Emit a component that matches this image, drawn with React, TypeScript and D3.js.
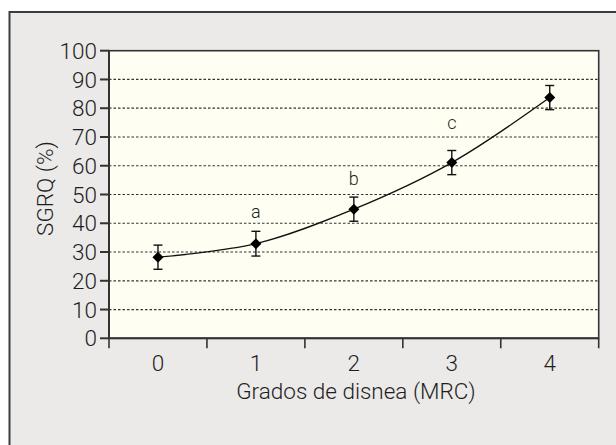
import React from "react";
import * as d3 from "d3";

const categories = ["0", "1", "2", "3", "4"];
const means = [28.2, 32.9, 44.9, 61.1, 83.7];
const errors = [4.2, 4.3, 4.2, 4.2, 4.2];
const yTicks = [0, 10, 20, 30, 40, 50, 60, 70, 80, 90, 100];
const gridValues = [10, 20, 30, 40, 50, 60, 70, 80, 90];
const annoLabels = ["a", "b", "c"];
const annoCats = ["1", "2", "3"];
const annoValues = [41.9, 53.4, 72.9];

const W = 616;
const H = 445;
const margin = { top: 50.7, right: 17.3, bottom: 106.7, left: 109 };
const font = "Roboto, 'Liberation Sans', Arial, sans-serif";
const ink = "#1e1e1e";

const App = () => {
  const x = d3
    .scaleBand()
    .domain(categories)
    .range([margin.left, W - margin.right]);

  const y = d3
    .scaleLinear()
    .domain([0, 100])
    .range([H - margin.bottom, margin.top]);

  const cx = (c) => x(c) + x.bandwidth() / 2;
  const pts = categories.map((c, i) => ({ c, v: means[i], e: errors[i] }));

  const line = d3
    .line()
    .x((d) => cx(d.c))
    .y((d) => y(d.v))
    .curve(d3.curveCatmullRom);

  // band edges for x ticks
  const edges = categories.map((c) => x(c)).concat([x.range()[1]]);
  const left = margin.left;
  const right = W - margin.right;
  const bottom = H - margin.bottom;
  const top = margin.top;
  const cap = 4.5;
  const dm = 5.5;

  return (
    <svg
      width={W}
      height={H}
      style={{ position: "absolute", left: 0, top: 0 }}
    >
      <rect x={0} y={0} width={W} height={H} fill="#ffffff" />
      <rect
        x={9.5}
        y={12}
        width={640}
        height={480}
        fill="#ebeae8"
        stroke="#3c3c3c"
        strokeWidth={2}
      />
      <rect
        x={left}
        y={top}
        width={right - left}
        height={bottom - top}
        fill="#fefef2"
        stroke="#333"
        strokeWidth={1.6}
      />

      {/* grid */}
      {gridValues.map((v) => (
        <line
          key={"g" + v}
          x1={left}
          x2={right}
          y1={y(v)}
          y2={y(v)}
          stroke="#333"
          strokeWidth={1.2}
          strokeDasharray="2.5,2"
        />
      ))}

      {/* axes */}
      <line x1={left} x2={left} y1={top} y2={bottom} stroke="#333" strokeWidth={2} />
      <line x1={left} x2={right} y1={bottom} y2={bottom} stroke="#333" strokeWidth={2} />

      {yTicks.map((v) => (
        <g key={"y" + v}>
          <line x1={left - 9} x2={left} y1={y(v)} y2={y(v)} stroke="#333" strokeWidth={2} />
          <text
            x={left - 12}
            y={y(v)}
            dy="0.36em"
            textAnchor="end"
            fontFamily={font}
            fontWeight={300}
            fontSize={22.5}
            fill={ink}
          >
            {v}
          </text>
        </g>
      ))}

      {edges.map((ex, i) => (
        <line
          key={"xt" + i}
          x1={ex}
          x2={ex}
          y1={bottom}
          y2={bottom + 10}
          stroke="#333"
          strokeWidth={1.6}
        />
      ))}
      {categories.map((c) => (
        <text
          key={"xl" + c}
          x={cx(c)}
          y={bottom + 25}
          dy="0.36em"
          textAnchor="middle"
          fontFamily={font}
          fontWeight={300}
          fontSize={22.5}
          fill={ink}
        >
          {c}
        </text>
      ))}

      <text
        x={(left + right) / 2 + 2}
        y={bottom + 53}
        dy="0.36em"
        textAnchor="middle"
        fontFamily={font}
        fontWeight={300}
        fontSize={22.5}
        fill={ink}
      >
        Grados de disnea (MRC)
      </text>
      <text
        transform={`translate(45, ${(top + bottom) / 2 - 6}) rotate(-90)`}
        dy="0.36em"
        textAnchor="middle"
        fontFamily={font}
        fontWeight={300}
        fontSize={22.5}
        fill={ink}
      >
        SGRQ (%)
      </text>

      {/* line */}
      <path d={line(pts)} fill="none" stroke="#111" strokeWidth={1.3} />

      {/* error bars */}
      {pts.map((d) => (
        <g key={"e" + d.c} stroke="#111" strokeWidth={1.4}>
          <line x1={cx(d.c)} x2={cx(d.c)} y1={y(d.v + d.e)} y2={y(d.v - d.e)} />
          <line x1={cx(d.c) - cap} x2={cx(d.c) + cap} y1={y(d.v + d.e)} y2={y(d.v + d.e)} />
          <line x1={cx(d.c) - cap} x2={cx(d.c) + cap} y1={y(d.v - d.e)} y2={y(d.v - d.e)} />
        </g>
      ))}

      {/* diamond markers */}
      {pts.map((d) => {
        const px = cx(d.c);
        const py = y(d.v);
        return (
          <path
            key={"m" + d.c}
            d={`M${px},${py - dm}L${px + dm},${py}L${px},${py + dm}L${px - dm},${py}Z`}
            fill="#000"
          />
        );
      })}

      {/* significance letters */}
      {annoLabels.map((l, i) => (
        <text
          key={"a" + l}
          x={cx(annoCats[i])}
          y={y(annoValues[i])}
          textAnchor="middle"
          fontFamily={font}
          fontWeight={300}
          fontSize={18}
          fill={ink}
        >
          {l}
        </text>
      ))}
    </svg>
  );
};

export default App;
